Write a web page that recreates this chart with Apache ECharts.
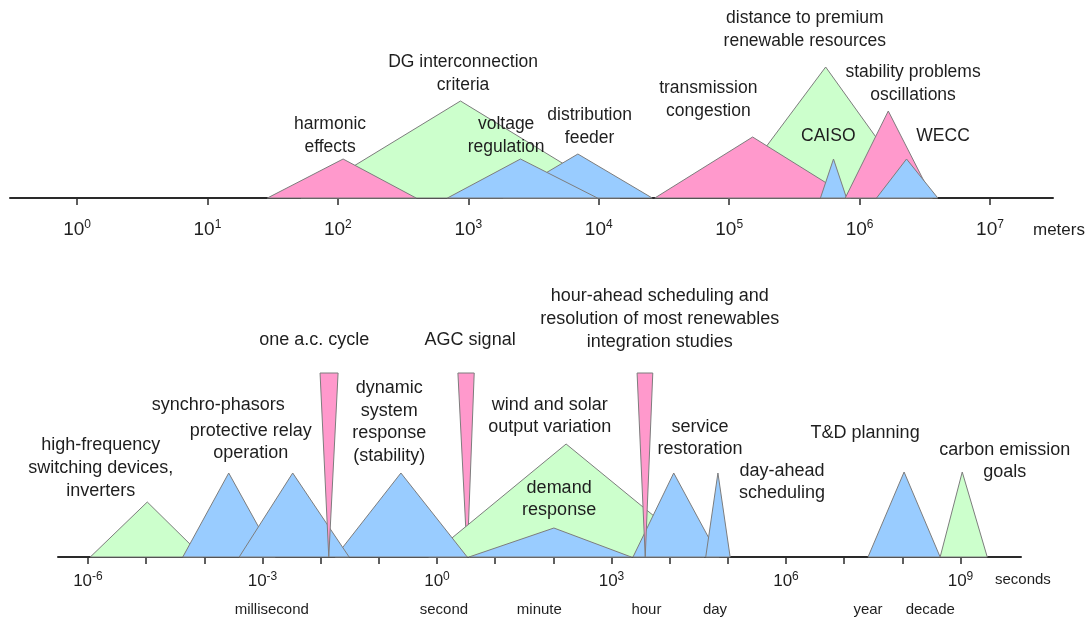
<!DOCTYPE html>
<html>
<head>
<meta charset="utf-8">
<title>Spatial and temporal scales</title>
<script src="https://cdn.jsdelivr.net/npm/echarts@6/dist/echarts.min.js"></script>
<style>
  html, body { margin: 0; padding: 0; background: #fff; }
  #chart { width: 1087px; height: 620px; }
</style>
</head>
<body>
<div id="chart"></div>
<script>
// ---- spatial scale (x = log10 of meters), drawn in back-to-front order
const spaceNames = ['DG interconnection criteria', 'distribution feeder', 'voltage regulation', 'harmonic effects',
  'distance to premium renewable resources', 'transmission congestion', 'CAISO', 'stability problems oscillations', 'WECC']
const spaceLeft = [1.72, 3.27, 2.84, 1.46, 4.99, 4.43, 5.70, 5.89, 6.13]
const spacePeak = [2.94, 3.84, 3.40, 2.04, 5.74, 5.18, 5.80, 6.22, 6.36]
const spaceRight = [4.16, 4.41, 3.99, 2.60, 6.46, 5.93, 5.90, 6.56, 6.60]
const spaceHeight = [97, 44, 39, 39, 131, 61, 39, 87, 39]
const spaceGroup = ['green', 'blue', 'blue', 'pink', 'green', 'pink', 'blue', 'pink', 'blue']
const spaceTicks = [0, 1, 2, 3, 4, 5, 6, 7]

// labels of the spatial panel
const spaceLabels = ['distance to premium\nrenewable resources', 'DG interconnection\ncriteria', 'harmonic\neffects',
  'voltage\nregulation', 'distribution\nfeeder', 'transmission\ncongestion', 'stability problems\noscillations', 'CAISO', 'WECC']
const spaceLabelX = [5.58, 2.96, 1.94, 3.29, 3.93, 4.84, 6.41, 5.76, 6.64]
const spaceLabelY = [168, 124, 62, 62, 71, 98, 114, 62, 62]

// ---- time scale (x = log10 of seconds)
const timeNames = ['high-frequency switching devices, inverters', 'synchro-phasors', 'AGC signal', 'demand response',
  'dynamic system response', 'protective relay operation', 'one a.c. cycle', 'wind and solar output variation',
  'service restoration', 'day-ahead scheduling', 'hour-ahead scheduling', 'T&D planning', 'carbon emission goals']
const timeLeft = [-5.96, -4.37, 0.36, -0.14, -1.75, -3.40, -2.01, 0.55, 3.37, 4.62, 3.44, 7.41, 8.65]
const timePeak = [-4.98, -3.58, 0.52, 2.22, -0.62, -2.48, -1.86, 2.01, 4.07, 4.83, 3.58, 8.03, 9.03]
const timeRight = [-4.02, -2.78, 0.64, 4.59, 0.52, -1.51, -1.70, 3.34, 4.85, 5.04, 3.71, 8.65, 9.46]
const timeHeight = [55, 84, 184, 113, 84, 84, 184, 29, 84, 84, 184, 85, 85]
const timeGroup = ['green', 'blue', 'pink', 'green', 'blue', 'blue', 'pink', 'blue', 'blue', 'blue', 'pink', 'blue', 'green']
const timeFlip = [0, 0, 1, 0, 0, 0, 1, 0, 0, 0, 1, 0, 0]
const timeTicks = [-6, -5, -4, -3, -2, -1, 0, 1, 2, 3, 4, 5, 6, 7, 8, 9]
const timeTickLabels = [-6, -3, 0, 3, 6, 9]

const timeLabels = ['one a.c. cycle', 'AGC signal', 'hour-ahead scheduling and\nresolution of most renewables\nintegration studies',
  'synchro-phasors', 'protective relay\noperation', 'high-frequency\nswitching devices,\ninverters',
  'dynamic\nsystem\nresponse\n(stability)', 'wind and solar\noutput variation', 'demand\nresponse',
  'service\nrestoration', 'day-ahead\nscheduling', 'T&D planning', 'carbon emission\ngoals']
const timeLabelX = [-2.11, 0.57, 3.83, -3.76, -3.20, -5.78, -0.82, 1.94, 2.10, 4.52, 5.93, 7.36, 9.76]
const timeLabelY = [217, 217, 238, 152, 115, 89, 135, 141, 58, 119, 75, 124, 96]

// named durations under the time axis
const unitNames = ['millisecond', 'second', 'minute', 'hour', 'day', 'year', 'decade']
const unitX = [-2.84, 0.12, 1.76, 3.60, 4.78, 7.41, 8.48]

const FONT = '"Liberation Sans", Arial, sans-serif'
const fills = { blue: '#99CCFF', green: '#CCFFCC', pink: '#FF99CC' }

const chart = echarts.init(document.getElementById('chart'))

// a custom series that turns each row of the arrays into one triangle
function triangles (gridIdx, left, peak, right, height, group, flip) {
  return {
    type: 'custom',
    xAxisIndex: gridIdx,
    yAxisIndex: gridIdx,
    silent: true,
    clip: false,
    encode: { x: [0, 1, 2], y: 3 },
    data: left.map((v, i) => [left[i], peak[i], right[i], height[i]]),
    renderItem (params, api) {
      const i = params.dataIndex
      const down = flip && flip[i]
      const base = down ? api.value(3) : 0
      const tip = down ? 0 : api.value(3)
      return {
        type: 'polygon',
        shape: {
          points: [
            api.coord([api.value(0), base]),
            api.coord([api.value(1), tip]),
            api.coord([api.value(2), base])
          ]
        },
        style: { fill: fills[group[i]], stroke: '#7d7d7d', lineWidth: 1 }
      }
    }
  }
}

function labels (gridIdx, texts, xs, ys, size, lh) {
  return {
    type: 'scatter',
    xAxisIndex: gridIdx,
    yAxisIndex: gridIdx,
    silent: true,
    clip: false,
    symbolSize: 1,
    itemStyle: { color: 'rgba(0,0,0,0)', opacity: 1 },
    z: 10,
    label: {
      show: true,
      position: 'inside',
      formatter: '{b}',
      align: 'center',
      verticalAlign: 'middle',
      color: '#1e1e1e',
      fontFamily: FONT,
      fontSize: size,
      lineHeight: lh
    },
    data: texts.map((t, i) => ({ name: t, value: [xs[i], ys[i]] }))
  }
}

function powerAxis (gridIdx, min, max, ticks, tickLabels, base, sup, lh, margin) {
  return {
    type: 'value',
    gridIndex: gridIdx,
    min: min,
    max: max,
    splitLine: { show: false },
    axisLine: { onZero: false, lineStyle: { color: '#2a2a2a', width: 2 } },
    axisTick: { customValues: ticks, length: 7, lineStyle: { color: '#2a2a2a', width: 1.5 } },
    axisLabel: {
      customValues: tickLabels,
      margin: margin,
      formatter: v => '{b|10}{s|' + v + '}',
      rich: {
        b: { fontSize: base, lineHeight: lh, color: '#1e1e1e', fontFamily: FONT },
        s: { fontSize: sup, lineHeight: sup, verticalAlign: 'top', color: '#1e1e1e', fontFamily: FONT }
      }
    }
  }
}

const option = {
  animation: false,
  backgroundColor: '#fff',
  grid: [
    { left: 10, right: 34, top: 0, height: 198 },
    { left: 58, right: 66, top: 277, height: 280 }
  ],
  xAxis: [
    powerAxis(0, -0.514, 7.483, spaceTicks, spaceTicks, 19, 12, 22, 21),
    powerAxis(1, -6.515, 10.04, timeTicks, timeTickLabels, 17, 12, 20, 14),
    {
      type: 'value',
      gridIndex: 1,
      position: 'bottom',
      min: -6.515,
      max: 10.04,
      axisLine: { show: false },
      axisTick: { show: false },
      splitLine: { show: false },
      axisLabel: {
        customValues: unitX,
        margin: 45,
        color: '#1e1e1e',
        fontFamily: FONT,
        fontSize: 15,
        formatter: v => unitNames[unitX.indexOf(v)] || ''
      }
    }
  ],
  yAxis: [
    { type: 'value', gridIndex: 0, min: 0, max: 198, show: false },
    { type: 'value', gridIndex: 1, min: 0, max: 280, show: false }
  ],
  graphic: [
    { type: 'text', left: 1033, top: 222, style: { text: 'meters', fontSize: 17, fill: '#1e1e1e', fontFamily: FONT } },
    { type: 'text', left: 995, top: 572, style: { text: 'seconds', fontSize: 15, fill: '#1e1e1e', fontFamily: FONT } }
  ],
  series: [
    triangles(0, spaceLeft, spacePeak, spaceRight, spaceHeight, spaceGroup, null),
    labels(0, spaceLabels, spaceLabelX, spaceLabelY, 17.5, 23),
    triangles(1, timeLeft, timePeak, timeRight, timeHeight, timeGroup, timeFlip),
    labels(1, timeLabels, timeLabelX, timeLabelY, 18, 22.7)
  ]
}

chart.setOption(option)
</script>
</body>
</html>
